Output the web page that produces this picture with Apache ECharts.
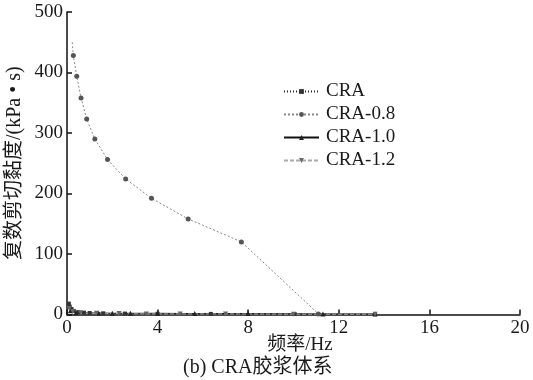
<!DOCTYPE html>
<html>
<head>
<meta charset="utf-8">
<script src="https://cdn.jsdelivr.net/npm/echarts@6/dist/echarts.min.js"></script>
<style>
  html, body { margin: 0; padding: 0; background: #fff; }
  #chart { width: 533px; height: 380px; }
</style>
</head>
<body>
<div id="chart"></div>
<script>
// Complex shear viscosity vs. frequency, CRA binder system
const seriesNames = ['CRA', 'CRA-0.8', 'CRA-1.0', 'CRA-1.2'];

// [frequency Hz, viscosity kPa·s]
const craData = [[0.08, 18], [0.12, 13], [0.2, 9], [0.3, 6], [0.5, 4], [0.75, 3], [1.0, 2.5],
  [1.6, 2], [2.56, 1.5], [4.0, 1.2], [6.35, 1], [10.05, 0.8], [13.6, 0.6]];
const cra08Start = [0.23, 450];
const cra08Data = [[0.28, 428], [0.43, 394], [0.62, 358], [0.87, 323], [1.23, 290], [1.79, 256],
  [2.59, 224], [3.73, 192], [5.35, 158], [7.70, 120], [11.1, 1]];
const cra10Data = [[0.15, 6], [0.4, 3], [1.4, 2.5], [2.0, 2], [2.8, 2], [4.0, 2], [5.64, 1.5],
  [8.0, 1.5], [11.3, 1], [13.6, 1]];
const cra12Data = [[0.1, 10], [0.25, 5], [0.6, 3], [1.3, 2], [2.3, 1.5], [3.5, 1], [5.0, 1],
  [7.0, 1], [10.0, 0.5], [13.6, 0.5]];

const xTicks = { min: 0, max: 20, interval: 4 };
const yTicks = { min: 0, max: 500, interval: 100 };

const serif = "'Liberation Serif', 'Noto Sans CJK SC', serif";

const chart = echarts.init(document.getElementById('chart'), null, { renderer: 'canvas' });

const axisCommon = {
  axisLine: { show: true, lineStyle: { color: '#111', width: 1.5 } },
  axisTick: { show: true, inside: true, length: 5, lineStyle: { color: '#111', width: 1.5 } },
  splitLine: { show: false },
  axisLabel: { fontFamily: serif, fontSize: 19, color: '#1a1a1a' },
  nameMoveOverlap: false
};

chart.setOption({
  animation: false,
  backgroundColor: '#fff',
  grid: { left: 67, right: 13, top: 12, bottom: 65.5, containLabel: false, outerBoundsMode: 'none' },
  xAxis: Object.assign({}, axisCommon, {
    type: 'value',
    min: xTicks.min, max: xTicks.max, interval: xTicks.interval,
    name: '频率/Hz',
    nameLocation: 'middle',
    nameGap: 21,
    nameTextStyle: { fontFamily: serif, fontSize: 19, color: '#1a1a1a', padding: [0, 0, 0, 13] },
    axisLabel: Object.assign({}, axisCommon.axisLabel, { margin: 4 })
  }),
  yAxis: Object.assign({}, axisCommon, {
    type: 'value',
    min: yTicks.min, max: yTicks.max, interval: yTicks.interval,
    name: '复数剪切黏度/(kPa • s)',
    nameLocation: 'middle',
    nameGap: 42,
    nameTextStyle: { fontFamily: serif, fontSize: 20, color: '#1a1a1a' },
    axisLabel: Object.assign({}, axisCommon.axisLabel, { margin: 4 })
  }),
  legend: {
    orient: 'vertical',
    left: 283,
    top: 82,
    padding: 0,
    itemWidth: 35,
    itemHeight: 6,
    itemGap: 4,
    textStyle: { fontFamily: serif, fontSize: 19, color: '#1a1a1a', padding: [0, 0, 0, 2] },
    data: seriesNames
  },
  graphic: [{
    type: 'text',
    left: 183,
    top: 358,
    style: { text: '(b) CRA胶浆体系', font: "20px 'Liberation Serif', 'Noto Sans CJK SC', serif", fill: '#1a1a1a' }
  }],
  series: [
    {
      name: seriesNames[0], type: 'line', data: craData,
      symbol: 'rect', symbolSize: 4,
      lineStyle: { color: '#222', width: 1, type: [1, 2] },
      itemStyle: { color: '#333' }
    },
    {
      name: seriesNames[1], type: 'line',
      data: [{ value: cra08Start, symbol: 'none' }].concat(cra08Data),
      symbol: 'circle', symbolSize: 5,
      lineStyle: { color: '#888', width: 1, type: [2, 2] },
      itemStyle: { color: '#555' }
    },
    {
      name: seriesNames[2], type: 'line', data: cra10Data,
      symbol: 'triangle', symbolSize: 5,
      lineStyle: { color: '#111', width: 1, type: 'solid' },
      itemStyle: { color: '#222' }
    },
    {
      name: seriesNames[3], type: 'line', data: cra12Data,
      symbol: 'triangle', symbolRotate: 180, symbolSize: 5,
      lineStyle: { color: '#aaa', width: 1, type: [4, 2] },
      itemStyle: { color: '#666' }
    }
  ]
});
</script>
</body>
</html>
